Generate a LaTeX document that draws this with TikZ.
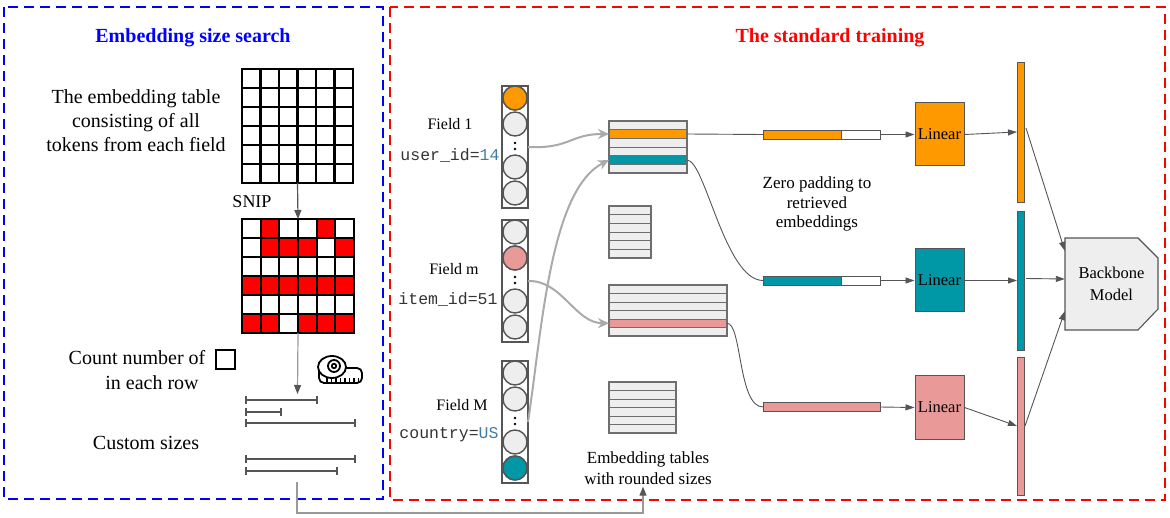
\documentclass[tikz,border=0pt]{standalone}
\usepackage{fontspec}
\setmainfont{Liberation Serif}
\setmonofont{Liberation Mono}
\usetikzlibrary{arrows.meta,calc}
\definecolor{corange}{HTML}{FF9900}
\definecolor{cteal}{HTML}{0098A6}
\definecolor{cpink}{HTML}{EA9999}
\definecolor{cfill}{HTML}{EEEEEE}
\definecolor{cline}{HTML}{555555}
\definecolor{clight}{HTML}{AAAAAA}
\definecolor{cmid}{HTML}{999999}
\definecolor{cnum}{HTML}{3D7EA6}
\definecolor{cred}{HTML}{FF0000}
\definecolor{cblue}{HTML}{0000FF}
\begin{document}
\begin{tikzpicture}[x=1pt,y=-1pt,
  bluebox/.style={draw=cblue,line width=2.5pt,dash pattern=on 10pt off 6pt},
  redbox/.style={draw=cred,line width=2.5pt,dash pattern=on 10pt off 6pt},
  gridbox/.style={draw=black,line width=2.2pt,inner sep=0,outer sep=0},
  gridl/.style={draw=black,line width=2.2pt},
  txt/.style={font=\fontsize{20}{24}\selectfont,align=center,inner sep=0},
  lab/.style={font=\fontsize{16}{19}\selectfont,inner sep=0},
  code/.style={font=\ttfamily\fontsize{16.5}{19}\selectfont,text=black!80,inner sep=0},
  vecbox/.style={draw=cline,line width=1.4pt,fill=white,minimum width=26,minimum height=122,inner sep=0},
  circ/.style={circle,draw=cline,line width=1.4pt,fill=cfill,minimum size=24,inner sep=0},
  trow/.style={draw=cline!85,line width=0.9pt,inner sep=0,outer sep=0},
  pbar/.style={draw=cline,line width=0.9pt,minimum height=9,inner sep=0,outer sep=0},
  lin/.style={draw=cline,line width=1pt,minimum width=49,minimum height=63,inner sep=0,font=\fontsize{16.5}{19}\selectfont},
  tall/.style={draw=cline,line width=0.9pt,minimum width=7,inner sep=0,outer sep=0},
  darrow/.style={draw=cline,line width=1.2pt,-{Triangle[length=9pt,width=7pt]}},
  marrow/.style={draw=cmid,line width=1.2pt,-{Triangle[length=9pt,width=7pt,color=cline]}},
  thinline/.style={draw=cline,line width=0.9pt},
  tarrow/.style={draw=cline,line width=0.9pt,-{Triangle[length=9pt,width=6pt]}},
  lgarrow/.style={draw=clight,line width=2pt,-{Stealth[length=11pt,width=10pt]}},
  szbar/.style={draw=cline,line width=2.2pt,{Bar[width=8pt]}-{Bar[width=8pt]}},
  icon/.style={draw=black,line width=1.8pt}
]
\useasboundingbox (0,0) rectangle (1170,518);

% dashed panels
\draw[bluebox] (4,7) rectangle (383,499);
\draw[redbox] (390,7) rectangle (1165,500);
\node[txt,font=\bfseries\fontsize{20}{24}\selectfont,text=cblue] (t1) at (193,38) {Embedding size search};
\node[txt,font=\bfseries\fontsize{20}{24}\selectfont,text=cred] (t2) at (830,38) {The standard training};

% ---------- left panel ----------
\node[txt] (tdesc) at (136,121) {The embedding table\\consisting of all\\tokens from each field};
\node[gridbox,minimum width=111,minimum height=114] (g1) at (297.5,126) {};
\foreach \k in {1,...,5} {
  \draw[gridl] ($(g1.north west)+({\k*18.5},0)$) -- ($(g1.south west)+({\k*18.5},0)$);
  \draw[gridl] ($(g1.north west)+(0,{\k*19})$) -- ($(g1.north east)+(0,{\k*19})$);
}
\node[gridbox,minimum width=112,minimum height=114] (g2) at (298,276) {};
\foreach \r/\c in {1/2,1/5,2/2,2/3,2/4,2/6,4/1,4/2,4/3,4/4,4/5,4/6,6/1,6/2,6/4,6/5,6/6}
  \fill[cred] ($(g2.north west)+({(\c-1)*18.667},{(\r-1)*19})$) rectangle ++(18.667,19);
\foreach \k in {1,...,5} {
  \draw[gridl] ($(g2.north west)+({\k*18.667},0)$) -- ($(g2.south west)+({\k*18.667},0)$);
  \draw[gridl] ($(g2.north west)+(0,{\k*19})$) -- ($(g2.north east)+(0,{\k*19})$);
}
\draw[gridl] (g2.north west) rectangle (g2.south east);
\draw[darrow] (g1.south) -- (g2.north);
\node[txt,font=\fontsize{18}{21}\selectfont] (snip) at (252,202) {SNIP};

\node[txt] (cnt1) at (137,358) {Count number of};
\node[draw=black,line width=2pt,minimum size=19,inner sep=0] (sq) at (225,360) {};
\node[txt] (cnt2) at (152,383) {in each row};
\coordinate (szt) at (297.5,394);
\draw[marrow] (g2.south) -- (szt);

% tape measure icon
\draw[icon,rounded corners=5] (319,368) -- (319,383) -- (362,383) -- (362,368) -- (343,368);
\draw[icon,fill=white] (332,367) ellipse (14 and 11);
\draw[icon] (334,366) circle (6);
\draw[icon] (334,366) circle (2.2);
\foreach \tx in {327,331.5,...,359} \draw[line width=1.2pt] (\tx,383) -- (\tx,378);

% size bars
\draw[szbar] (245,400) -- (318,400);
\draw[szbar] (245,412) -- (282,412);
\draw[szbar] (245,423) -- (356,423);
\node[txt] (cust) at (146,443) {Custom sizes};
\draw[szbar] (245,459) -- (356,459);
\draw[szbar] (245,471) -- (338,471);
\coordinate (cs) at (297,482);

% ---------- field vectors ----------
\node[vecbox] (v1) at (515,147) {};
\node[vecbox] (v2) at (515,281) {};
\node[vecbox] (v3) at (515,422) {};
\foreach \v/\top in {1/86,2/220,3/361} {
  \node[circ] (v\v a) at (515,\top+12) {};
  \node[circ] (v\v b) at (515,\top+38) {};
  \node[circ] (v\v c) at (515,\top+81) {};
  \node[circ] (v\v e) at (515,\top+107) {};
  \fill[black] (515,\top+57) circle (1.3) (515,\top+63) circle (1.3);
  \coordinate (v\v d) at (528,\top+61);
}
\node[circ,fill=corange] at (v1a) {};
\node[circ,fill=cpink] at (v2b) {};
\node[circ,fill=cteal] at (v3e) {};

\node[lab] (f1) at (450,124) {Field 1};
\node[code] (u1) at (450,155) {user\_id=\textcolor{cnum}{14}};
\node[lab] (f2) at (454,269) {Field m};
\node[code] (u2) at (448,299) {item\_id=51};
\node[lab] (f3) at (462,405) {Field M};
\node[code] (u3) at (449,435) {country=\textcolor{cnum}{US}};

% ---------- embedding tables ----------
\foreach \i/\c in {1/cfill,2/corange,3/cfill,4/cfill,5/cteal,6/cfill}
  \node[trow,fill=\c,minimum width=78,minimum height=8.667] (tA\i) at (648,{121+8.667*\i-4.333}) {};
\draw[draw=cline!85,line width=1.1pt] (tA1.north west) rectangle (tA6.south east);
\foreach \i in {1,...,6}
  \node[trow,fill=cfill,minimum width=42,minimum height=8.667] (tB\i) at (630,{206+8.667*\i-4.333}) {};
\draw[draw=cline!85,line width=1.1pt] (tB1.north west) rectangle (tB6.south east);
\foreach \i/\c in {1/cfill,2/cfill,3/cfill,4/cfill,5/cpink,6/cfill}
  \node[trow,fill=\c,minimum width=118,minimum height=8.5] (tC\i) at (668,{285+8.5*\i-4.25}) {};
\draw[draw=cline!85,line width=1.1pt] (tC1.north west) rectangle (tC6.south east);
\foreach \i in {1,...,6}
  \node[trow,fill=cfill,minimum width=67,minimum height=8.5] (tD\i) at (642.5,{382+8.5*\i-4.25}) {};
\draw[draw=cline!85,line width=1.1pt] (tD1.north west) rectangle (tD6.south east);
\node[txt,font=\fontsize{17}{21}\selectfont] (et) at (648,468) {Embedding tables\\with rounded sizes};

% light gray lookups
\draw[lgarrow] (v1d) .. controls (570,149) and (570,134) .. (tA2.west);
\draw[lgarrow] (v3d) .. controls (542,330) and (550,190) .. (tA5.west);
\draw[lgarrow] (v2d) .. controls (562,280) and (575,323) .. (tC5.west);

% ---------- padded embeddings ----------
\node[pbar,fill=corange,minimum width=78,anchor=west] (b1) at (763,134.5) {};
\node[pbar,fill=white,minimum width=39,anchor=west] (b1z) at (b1.east) {};
\node[pbar,fill=cteal,minimum width=78,anchor=west] (b2) at (763,280.5) {};
\node[pbar,fill=white,minimum width=39,anchor=west] (b2z) at (b2.east) {};
\node[pbar,fill=cpink,minimum width=117,anchor=west] (b3) at (763,407) {};

\draw[thinline] (tA2.east) -- (b1.west);
\draw[thinline] (tA5.east) .. controls (705,160) and (725,280.5) .. (b2.west);
\draw[thinline] (tC5.east) .. controls (742,323) and (738,407) .. (b3.west);

\node[txt,font=\fontsize{17}{19.5}\selectfont] (zp) at (817,204) {Zero padding to\\retrieved\\embeddings};

% ---------- linear layers ----------
\node[lin,fill=corange] (L1) at (939.5,134.5) {Linear};
\node[lin,fill=cteal] (L2) at (939.5,280.5) {Linear};
\node[lin,fill=cpink] (L3) at (939.5,407.5) {Linear};
\draw[tarrow] (b1z.east) -- (L1.west);
\draw[tarrow] (b2z.east) -- (L2.west);
\draw[tarrow] (b3.east) -- (L3.west);

\node[tall,fill=corange,minimum height=140] (tb1) at (1020.5,132) {};
\node[tall,fill=cteal,minimum height=139] (tb2) at (1020.5,280.5) {};
\node[tall,fill=cpink,minimum height=138] (tb3) at (1020.5,426) {};
\draw[tarrow] (L1.east) -- (tb1.west);
\draw[tarrow] (L2.east) -- (tb2.west);
\draw[tarrow] (L3.east) -- (tb3.west);

% ---------- backbone ----------
\draw[draw=cline,line width=1.1pt,fill=cfill] (1065,238) -- (1138,238) -- (1158,258) -- (1158,309) -- (1138,330) -- (1065,330) -- cycle;
\node[txt,font=\fontsize{16.5}{22}\selectfont,minimum width=93,minimum height=92] (bb) at (1111.5,284) {Backbone\\Model};
\draw[tarrow] ($(tb1.east)+(2,-4)$) -- ($(bb.north west)+(0,13)$);
\draw[tarrow] ($(tb2.east)+(2,-2)$) -- ($(bb.west)+(0,-5)$);
\draw[tarrow] ($(tb3.east)+(1,0)$) -- ($(bb.south west)+(0,-19)$);

% ---------- bottom connector ----------
\draw[draw=cmid,line width=1.2pt,-{Triangle[length=9pt,width=7pt,color=cline]}] (cs) -- (297,513) -- (643,513) -- ($(et.south)+(-5,2)$);
\end{tikzpicture}
\end{document}
